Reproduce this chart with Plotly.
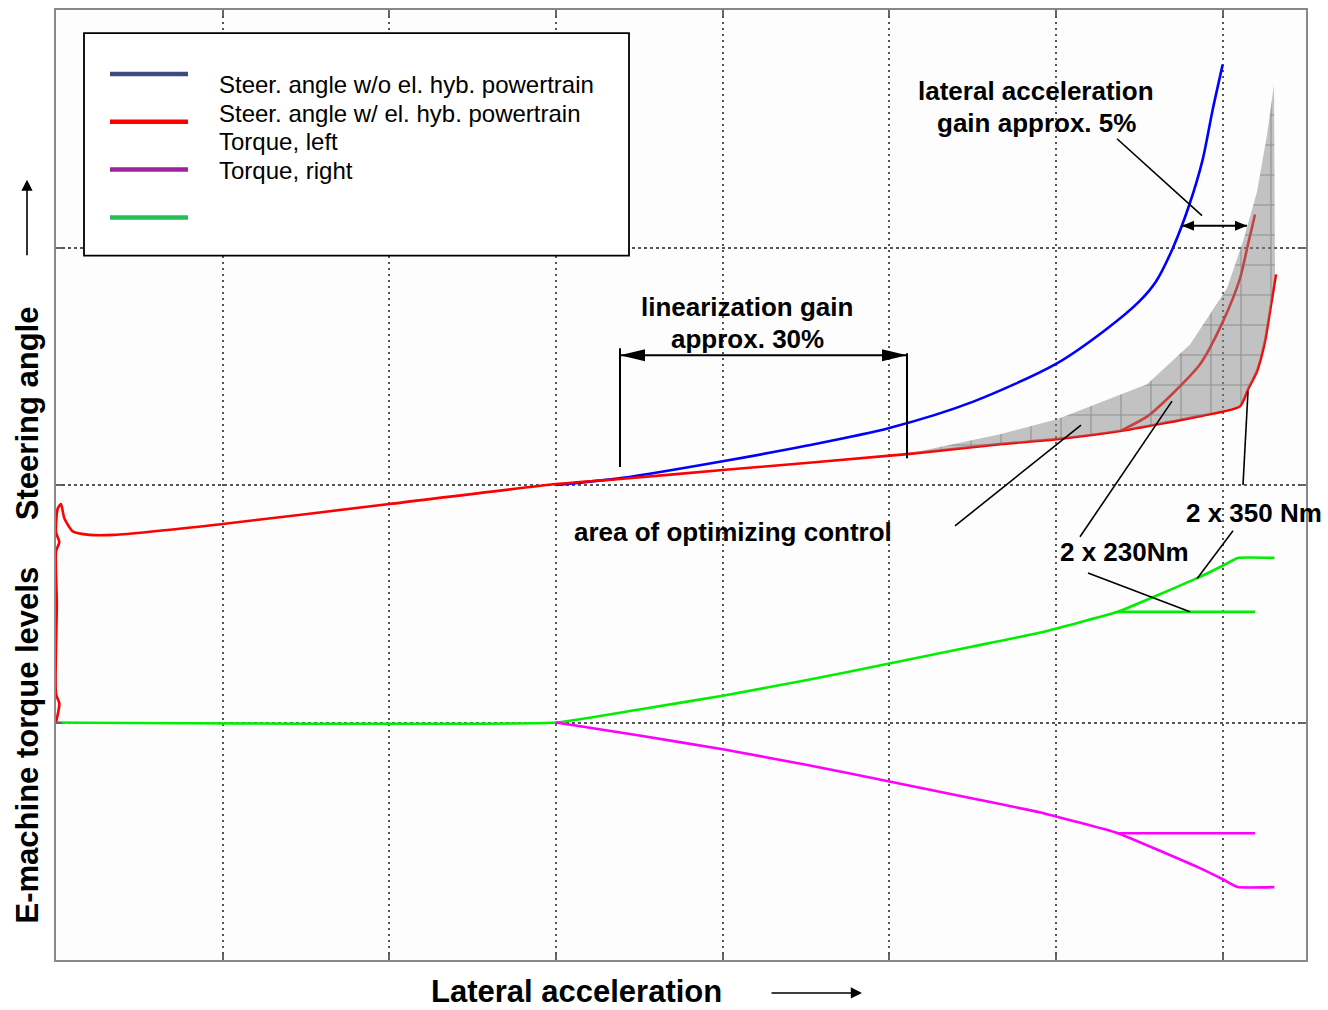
import plotly.graph_objects as go

# ---------------------------------------------------------------------------
# Axes: lateral acceleration 0..7.5 (grid every unit); vertical axis holds the
# e-machine torque levels (0..2, zero torque at 1) under the steering angle (2..4).
# ---------------------------------------------------------------------------
X_RANGE = [0, 7.5]
Y_RANGE = [0, 4]

# Steering angle without electric hybrid powertrain
blue_x = [3.0, 3.4, 4.0, 4.5, 5.0, 5.5, 6.0, 6.3, 6.5, 6.6, 6.7, 6.8, 6.88, 6.94, 7.0]
blue_y = [2.0, 2.03, 2.10, 2.165, 2.24, 2.35, 2.51, 2.655, 2.773, 2.857, 2.996, 3.18, 3.37, 3.58, 3.77]

# Steering angle with electric hybrid powertrain (2 x 350 Nm)
red_x = [0.0, 0.02, 0.0, 0.005, 0.0, 0.02, 0.0, 0.01, 0.03, 0.05, 0.1, 0.2, 0.35,
         1.0, 2.0, 3.0, 3.384, 4.0, 5.106, 5.664, 6.006, 6.384, 6.864, 7.104,
         7.152, 7.206, 7.254, 7.284, 7.32]
red_y = [1.0, 1.08, 1.12, 1.5, 1.72, 1.76, 1.8, 1.9, 1.92, 1.86, 1.805, 1.79, 1.79,
         1.836, 1.92, 2.004, 2.025, 2.063, 2.13, 2.172, 2.193, 2.227, 2.29, 2.332,
         2.403, 2.479, 2.605, 2.731, 2.887]

# Steering angle with electric hybrid powertrain limited to 2 x 230 Nm
red230_x = [6.384, 6.55, 6.696, 6.864, 7.002, 7.104, 7.152, 7.194]
red230_y = [2.227, 2.29, 2.382, 2.508, 2.689, 2.87, 3.013, 3.139]

# Area of optimizing control (upper edge, then lower edge along the red curve)
area_x = [5.124, 5.664, 6.006, 6.546, 6.804, 7.026, 7.122, 7.206, 7.266, 7.308,
          7.314, 7.284, 7.254, 7.206, 7.152, 7.104, 6.864, 6.384, 6.006, 5.664, 5.124]
area_y = [2.134, 2.214, 2.277, 2.424, 2.592, 2.828, 3.025, 3.235, 3.475, 3.685,
          2.887, 2.731, 2.605, 2.479, 2.403, 2.332, 2.29, 2.227, 2.193, 2.172, 2.134]

# E-machine torque, positive side (2 x 350 Nm) and its 2 x 230 Nm limit
green_x = [0.0, 3.0, 3.5, 4.0, 4.5, 5.0, 5.5, 5.9, 6.37, 6.85, 7.0, 7.09, 7.31]
green_y = [1.0, 1.0, 1.055, 1.113, 1.178, 1.248, 1.32, 1.378, 1.466, 1.609, 1.66, 1.693, 1.693]
green230_x = [6.37, 7.194]
green230_y = [1.466, 1.466]

# E-machine torque, negative side (2 x 350 Nm) and its 2 x 230 Nm limit
magenta_x = [3.0, 3.5, 4.0, 4.5, 5.0, 5.5, 5.9, 6.37, 6.85, 7.0, 7.09, 7.31]
magenta_y = [1.0, 0.945, 0.887, 0.822, 0.752, 0.68, 0.622, 0.534, 0.391, 0.34, 0.307, 0.307]
magenta230_x = [6.37, 7.194]
magenta230_y = [0.534, 0.534]

# Legend entries (drawn as a boxed key)
legend_labels = ["Steer. angle w/o el. hyb. powertrain",
                 "Steer. angle w/ el. hyb. powertrain",
                 "Torque, left",
                 "Torque, right"]
legend_colors = ["#3f4b7f", "#ff0000", "#a021a0", "#22c055"]

FONT = "Liberation Sans, Arial, Helvetica, sans-serif"
W, H = 1328, 1010
M_L, M_R, M_T, M_B = 56, 22, 8, 50
PLOT_W = W - M_L - M_R
PLOT_H = H - M_T - M_B
UX = (X_RANGE[1] - X_RANGE[0]) / PLOT_W   # data units per pixel, horizontal
UY = (Y_RANGE[1] - Y_RANGE[0]) / PLOT_H   # data units per pixel, vertical

fig = go.Figure()


def add_line(x, y, color, width=2.6, smoothing=None):
    line = dict(color=color, width=width)
    if smoothing:
        line.update(shape="spline", smoothing=smoothing)
    fig.add_trace(go.Scatter(x=x, y=y, mode="lines", showlegend=False,
                             hoverinfo="skip", line=line))


add_line(green_x, green_y, "#00ee00", smoothing=0.35)
add_line(green230_x, green230_y, "#00ee00")
add_line(magenta_x, magenta_y, "#ff00ff", smoothing=0.35)
add_line(magenta230_x, magenta230_y, "#ff00ff")
add_line(blue_x, blue_y, "#0000ff", smoothing=0.8)
add_line(red230_x, red230_y, "#ff0000", smoothing=0.7)
add_line(red_x, red_y, "#ff0000", smoothing=0.6)

# Shaded, gridded region laid over the curves
fig.add_trace(go.Scatter(
    x=area_x, y=area_y, mode="lines", fill="toself", showlegend=False,
    hoverinfo="skip", line=dict(width=0),
    fillcolor="rgba(135,135,135,0.5)",
    fillpattern=dict(shape="+", size=30, solidity=0.07, fgcolor="#6e6e6e",
                     fgopacity=0.6, fillmode="overlay"),
))

shapes = []
annotations = []


def seg(x0, y0, x1, y1, width=2.0, ref="x"):
    shapes.append(dict(type="line", xref=ref, yref=ref.replace("x", "y"),
                       x0=x0, y0=y0, x1=x1, y1=y1,
                       line=dict(color="black", width=width)))


def head(tip_x, tip_y, direction, length, half):
    # filled arrow head; direction +1 points right, -1 points left
    bx = tip_x - direction * length * UX
    shapes.append(dict(type="path", xref="x", yref="y",
                       path=f"M{tip_x},{tip_y} L{bx},{tip_y + half * UY} "
                            f"L{bx},{tip_y - half * UY} Z",
                       fillcolor="black", line=dict(width=0)))


def label(x, y, text, size=26, bold=True, xanchor="center", ref="x"):
    annotations.append(dict(x=x, y=y, xref=ref, yref=ref.replace("x", "y"),
                            text=f"<b>{text}</b>" if bold else text,
                            showarrow=False, xanchor=xanchor, yanchor="middle",
                            font=dict(family=FONT, size=size, color="black")))


# Linearization gain marker
seg(3.384, 2.546, 5.106, 2.546)
head(3.384, 2.546, -1, 25, 6)
head(5.106, 2.546, 1, 25, 6)
seg(3.384, 2.576, 3.384, 2.076)
seg(5.106, 2.555, 5.106, 2.113)
label(4.146, 2.748, "linearization gain")
label(4.146, 2.613, "approx. 30%")

# Lateral acceleration gain marker
label(5.88, 3.66, "lateral acceleration")
label(5.88, 3.525, "gain approx. 5%")
seg(6.366, 3.458, 6.876, 3.134, width=1.6)
seg(6.756, 3.092, 7.146, 3.092)
head(6.756, 3.092, -1, 12, 5)
head(7.146, 3.092, 1, 12, 5)

# Optimizing control area
label(4.062, 1.803, "area of optimizing control")
seg(5.394, 1.828, 6.15, 2.252, width=1.6)

# Torque level call-outs
label(6.408, 1.718, "2 x 230Nm")
seg(6.144, 1.782, 6.696, 2.353, width=1.6)
seg(6.192, 1.630, 6.804, 1.466, width=1.6)
label(7.188, 1.882, "2 x 350 Nm")
seg(7.122, 2.0, 7.152, 2.395, width=1.6)
seg(6.846, 1.605, 7.062, 1.807, width=1.6)

# Key box
shapes.append(dict(type="rect", xref="x", yref="y", x0=0.168, y0=2.966,
                   x1=3.438, y1=3.903, fillcolor="white",
                   line=dict(color="black", width=1.8), layer="above"))
sample_y = [3.731, 3.529, 3.328, 3.126]
text_y = [3.685, 3.563, 3.445, 3.324]
for yy, c in zip(sample_y, legend_colors):
    shapes.append(dict(type="line", xref="x", yref="y", x0=0.324, x1=0.792,
                       y0=yy, y1=yy, line=dict(color=c, width=4.5), layer="above"))
for yy, t in zip(text_y, legend_labels):
    label(0.966, yy, t, size=24, bold=False, xanchor="left")

# Axis titles and direction arrows
annotations.append(dict(x=(576 - M_L) / PLOT_W, y=(H - M_B - 1010) / PLOT_H,
                        xref="paper", yref="paper", text="<b>Lateral acceleration</b>",
                        showarrow=False, xanchor="center", yanchor="bottom",
                        borderpad=0,
                        font=dict(family=FONT, size=31, color="black")))
annotations.append(dict(x=(862 - M_L) / PLOT_W, y=(H - M_B - 993) / PLOT_H,
                        xref="paper", yref="paper", ax=-92, ay=0, text="",
                        showarrow=True, arrowhead=2, arrowsize=1.4,
                        arrowwidth=1.6, arrowcolor="black"))
for txt, cy in [("Steering angle", 412), ("E-machine torque levels", 745)]:
    annotations.append(dict(x=(27 - M_L) / PLOT_W, y=(H - M_B - cy) / PLOT_H,
                            xref="paper", yref="paper", text=f"<b>{txt}</b>",
                            textangle=-90, showarrow=False,
                            xanchor="center", yanchor="middle",
                            font=dict(family=FONT, size=31, color="black")))
annotations.append(dict(x=(27 - M_L) / PLOT_W, y=(H - M_B - 178) / PLOT_H,
                        xref="paper", yref="paper", ax=0, ay=77, text="",
                        showarrow=True, arrowhead=2, arrowsize=1.4,
                        arrowwidth=1.6, arrowcolor="black"))

axis_common = dict(showticklabels=False, ticks="inside", ticklen=6,
                   tickcolor="#666", tickwidth=1.5, showline=True,
                   linecolor="#888", linewidth=2, mirror="ticks",
                   zeroline=False, showgrid=True, gridcolor="#555",
                   gridwidth=1.6, tick0=0, dtick=1)

fig.update_layout(
    width=W, height=H,
    margin=dict(l=M_L, r=M_R, t=M_T, b=M_B),
    paper_bgcolor="white", plot_bgcolor="#fdfdfd",
    xaxis=dict(range=X_RANGE, griddash="2px,4px", **axis_common),
    yaxis=dict(range=Y_RANGE, griddash="3px,3px", **axis_common),
    shapes=shapes, annotations=annotations,
    showlegend=False,
)

fig.write_html("out.html")
